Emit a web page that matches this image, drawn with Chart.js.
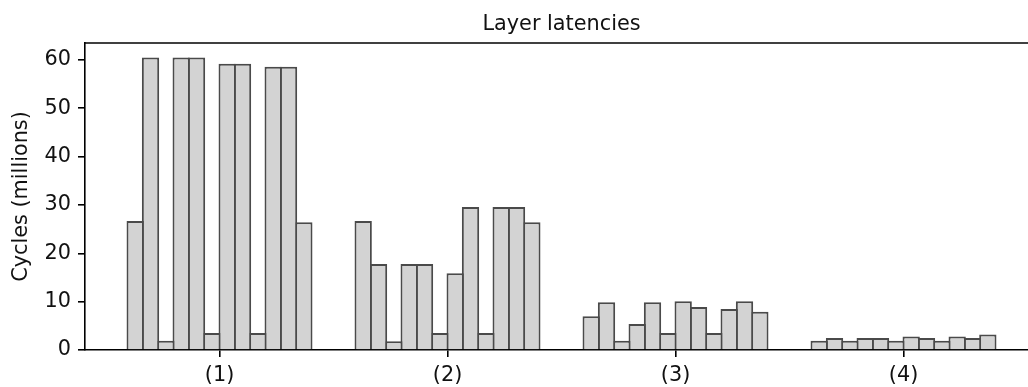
<!DOCTYPE html>
<html>
<head>
<meta charset="utf-8">
<script src="https://cdn.jsdelivr.net/npm/chart.js@4"></script>
<style>
    html, body { margin: 0; padding: 0; background: #fff; }
    #wrap { width: 1028px; height: 387px; }
</style>
</head>
<body>
<div id="wrap"><canvas id="chart" width="1028" height="387"></canvas></div>
<script>
// --- data (millions of cycles), 12 layers per configuration ---
const groupLabels = ['(1)', '(2)', '(3)', '(4)'];
const group1 = [26.7, 60.5, 1.9, 60.5, 60.5, 3.5, 59.2, 59.2, 3.5, 58.6, 58.6, 26.4];
const group2 = [26.7, 17.8, 1.8, 17.8, 17.8, 3.5, 15.9, 29.6, 3.5, 29.6, 29.6, 26.4];
const group3 = [7.0, 9.9, 1.9, 5.4, 9.9, 3.5, 10.1, 8.9, 3.5, 8.5, 10.1, 7.9];
const group4 = [1.9, 2.5, 1.9, 2.5, 2.5, 1.9, 2.8, 2.5, 1.9, 2.8, 2.5, 3.2];
const yTicks = [0, 10, 20, 30, 40, 50, 60];

const groups = [group1, group2, group3, group4];
const FONT = 'DejaVu Sans';
const FS = 20.8;
const LW = 1.6;

// one dataset per layer slot, so bars sit side by side inside each group
const datasets = group1.map((_, i) => ({
    data: groups.map((g, gi) => ({ x: gi, y: g[i] })),
    backgroundColor: '#d3d3d3',
    borderColor: '#4a4a4a',
    borderWidth: 2,
    borderSkipped: 'start',
    categoryPercentage: 0.807,
    barPercentage: 1.13
}));

// title over the (partly cropped) axes + top spine
const frame = {
    id: 'frame',
    afterDraw(chart) {
        const { ctx, chartArea, scales } = chart;
        ctx.save();
        ctx.strokeStyle = '#000';
        ctx.lineWidth = LW;
        ctx.beginPath();
        ctx.moveTo(chartArea.left - LW / 2, chartArea.top);
        ctx.lineTo(chartArea.right, chartArea.top);
        ctx.stroke();
        ctx.fillStyle = '#111';
        ctx.font = FS + 'px "' + FONT + '"';
        ctx.textAlign = 'center';
        ctx.textBaseline = 'alphabetic';
        ctx.fillText('Layer latencies', scales.x.getPixelForValue(1.5), 30);
        ctx.restore();
    }
};

new Chart(document.getElementById('chart'), {
    type: 'bar',
    data: { datasets },
    plugins: [frame],
    options: {
        responsive: false,
        animation: false,
        layout: { padding: { top: 43, left: 0, right: 0, bottom: 0 } },
        plugins: { legend: { display: false }, tooltip: { enabled: false } },
        scales: {
            x: {
                type: 'linear',
                offset: false,
                min: -0.59,
                max: 3.546,
                afterBuildTicks: (s) => { s.ticks = groupLabels.map((_, i) => ({ value: i })); },
                afterFit: (s) => { s.height = 37; },
                ticks: {
                    callback: (v) => groupLabels[v],
                    color: '#111',
                    font: { family: FONT, size: FS },
                    padding: 6,
                    maxRotation: 0
                },
                grid: { offset: false, drawOnChartArea: false, drawTicks: true, tickLength: 7, color: '#000', lineWidth: LW },
                border: { display: true, color: '#000', width: LW }
            },
            y: {
                min: 0,
                max: 63.5,
                afterBuildTicks: (s) => { s.ticks = yTicks.map(v => ({ value: v })); },
                afterFit: (s) => { s.width = 85; },
                ticks: {
                    color: '#111',
                    font: { family: FONT, size: FS },
                    padding: 7
                },
                grid: { drawOnChartArea: false, drawTicks: true, tickLength: 7, color: '#000', lineWidth: LW },
                border: { display: true, color: '#000', width: LW },
                title: {
                    display: true,
                    text: 'Cycles (millions)',
                    color: '#111',
                    font: { family: FONT, size: FS },
                    padding: { top: 9, bottom: 0 }
                }
            }
        }
    }
});
</script>
</body>
</html>
